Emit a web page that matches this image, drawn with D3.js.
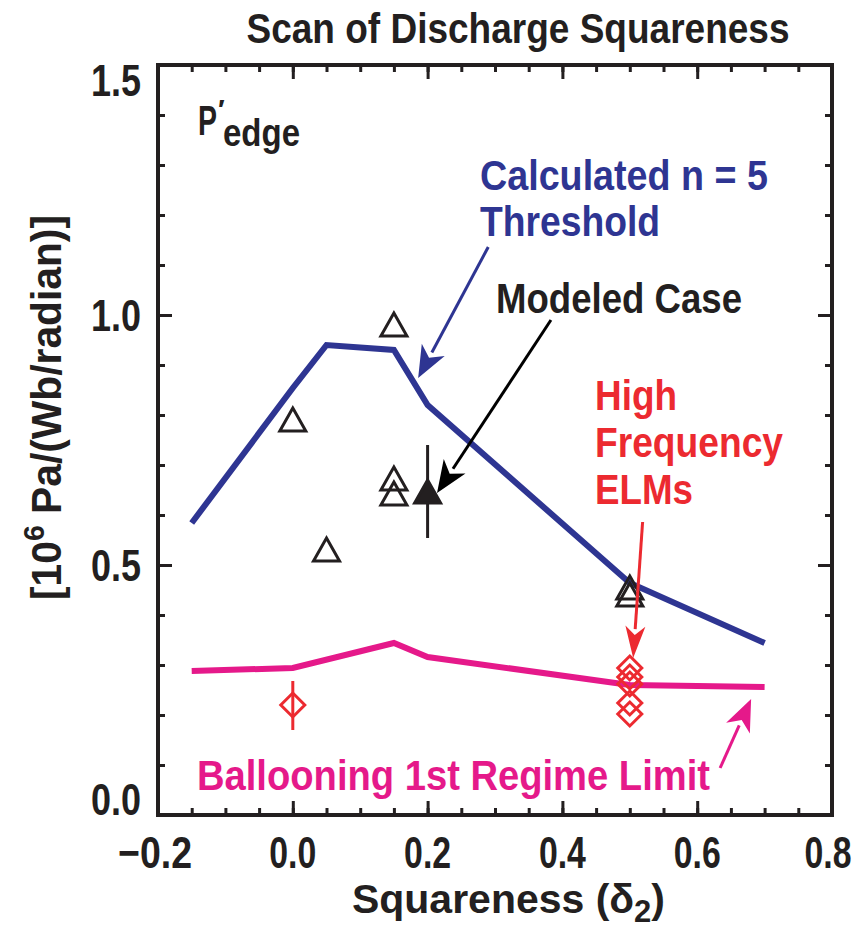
<!DOCTYPE html>
<html><head><meta charset="utf-8">
<script src="https://cdn.jsdelivr.net/npm/d3@7"></script>
<style>
html,body{margin:0;padding:0;background:#fff;}
svg text{font-family:'Liberation Sans Narrow','Arial Narrow','Liberation Sans',Arial,sans-serif;font-weight:bold;}
</style></head>
<body>
<svg id="c" width="864" height="931"></svg>
<script>
// ---- data ----
const thresholdX = [-0.15, 0.0, 0.05, 0.15, 0.2, 0.5, 0.7];
const thresholdY = [0.584, 0.854, 0.94, 0.93, 0.82, 0.464, 0.344];
const balloonX = [-0.15, 0.0, 0.15, 0.2, 0.5, 0.7];
const balloonY = [0.288, 0.294, 0.344, 0.316, 0.26, 0.256];
const openTriX = [0.0, 0.05, 0.15, 0.15, 0.15, 0.5, 0.5];
const openTriY = [0.786, 0.526, 0.976, 0.668, 0.638, 0.45, 0.436];
const modeledX = [0.2];
const modeledY = [0.642];
const modeledLo = [0.554];
const modeledHi = [0.74];
const diamondX = [0.0, 0.5, 0.5, 0.5, 0.5, 0.5];
const diamondY = [0.22, 0.294, 0.276, 0.262, 0.224, 0.202];
const diamondErrX = [0.0];
const diamondErrLo = [0.17];
const diamondErrHi = [0.268];
const xTicks = [-0.2, 0.0, 0.2, 0.4, 0.6, 0.8];
const xTickLabels = ["\u22120.2", "0.0", "0.2", "0.4", "0.6", "0.8"];
const yTicks = [0.0, 0.5, 1.0, 1.5];
const yTickLabels = ["0.0", "0.5", "1.0", "1.5"];

const BLUE = "#2e3592", PINK = "#e5198a", RED = "#ec2a30", BLACK = "#231f20";

const svg = d3.select("#c");
const x = d3.scaleLinear().domain([-0.2, 0.8]).range([158, 832]);
const y = d3.scaleLinear().domain([0, 1.5]).range([815, 65]);

// ---- axes ticks (inward) ----
const xMinor = d3.range(-0.2, 0.8001, 0.05).map(v => +v.toFixed(2));
const yMinor = d3.range(0, 1.5001, 0.1).map(v => +v.toFixed(2));
function tickGroup(axis, tr) {
  const g = svg.append("g").attr("transform", tr).call(axis);
  g.select(".domain").remove();
  g.selectAll("text").remove();
  g.selectAll("line").attr("stroke", BLACK).attr("stroke-width", 3);
  return g;
}
tickGroup(d3.axisBottom(x).tickValues(xMinor).tickSize(-7), `translate(0,${y(0)})`);
tickGroup(d3.axisBottom(x).tickValues(xTicks).tickSize(-14), `translate(0,${y(0)})`);
tickGroup(d3.axisTop(x).tickValues(xMinor).tickSize(-7), `translate(0,${y(1.5)})`);
tickGroup(d3.axisTop(x).tickValues(xTicks).tickSize(-14), `translate(0,${y(1.5)})`);
tickGroup(d3.axisLeft(y).tickValues(yMinor).tickSize(-7), `translate(${x(-0.2)},0)`);
tickGroup(d3.axisLeft(y).tickValues(yTicks).tickSize(-14), `translate(${x(-0.2)},0)`);
tickGroup(d3.axisRight(y).tickValues(yMinor).tickSize(-7), `translate(${x(0.8)},0)`);
tickGroup(d3.axisRight(y).tickValues(yTicks).tickSize(-14), `translate(${x(0.8)},0)`);

svg.append("rect").attr("x", x(-0.2)).attr("y", y(1.5))
  .attr("width", x(0.8) - x(-0.2)).attr("height", y(0) - y(1.5))
  .attr("fill", "none").attr("stroke", BLACK).attr("stroke-width", 4);

// tick labels
svg.append("g").selectAll("text").data(xTicks).join("text")
  .attr("x", d => x(d) - (d < 0 ? 3 : 0) - (d > 0.7 ? 4 : 0)).attr("y", 868).attr("text-anchor", "middle")
  .attr("font-size", 44).attr("fill", BLACK)
  .attr("textLength", d => d < 0 ? 74 : 47).attr("lengthAdjust", "spacingAndGlyphs")
  .text((d, i) => xTickLabels[i]);
svg.append("g").selectAll("text").data(yTicks).join("text")
  .attr("x", 141).attr("y", d => d === 1.5 ? y(d) + 31 : d === 0 ? y(d) : y(d) + 16)
  .attr("text-anchor", "end").attr("font-size", 45).attr("fill", BLACK)
  .attr("textLength", 50).attr("lengthAdjust", "spacingAndGlyphs")
  .text((d, i) => yTickLabels[i]);

// titles
svg.append("text").attr("x", 518).attr("y", 43).attr("text-anchor", "middle")
  .attr("font-size", 42).attr("fill", BLACK)
  .attr("textLength", 543).attr("lengthAdjust", "spacingAndGlyphs")
  .text("Scan of Discharge Squareness");

const xt = svg.append("text").attr("x", 352).attr("y", 913)
  .attr("font-size", 41).attr("fill", BLACK)
  .attr("textLength", 313).attr("lengthAdjust", "spacingAndGlyphs");
xt.append("tspan").text("Squareness (\u03b4");
xt.append("tspan").attr("font-size", 31).attr("dy", 9).text("2");
xt.append("tspan").attr("dy", -9).text(")");

const yt = svg.append("text").attr("transform", "translate(61,600) rotate(-90)")
  .attr("font-size", 43).attr("fill", BLACK)
  .attr("textLength", 385).attr("lengthAdjust", "spacingAndGlyphs");
yt.append("tspan").text("[10");
yt.append("tspan").attr("font-size", 30).attr("dy", -17).text("6");
yt.append("tspan").attr("dy", 17).text(" Pa/(Wb/radian)]");

// P'edge
svg.append("text").attr("x", 198).attr("y", 135).attr("font-size", 42).attr("fill", BLACK)
  .attr("textLength", 19).attr("lengthAdjust", "spacingAndGlyphs").text("P");
svg.append("text").attr("x", 218).attr("y", 119).attr("font-size", 28).attr("fill", BLACK)
  .attr("font-family", "DejaVu Sans").text("\u2032");
svg.append("text").attr("x", 223).attr("y", 146).attr("font-size", 38).attr("fill", BLACK)
  .attr("textLength", 77).attr("lengthAdjust", "spacingAndGlyphs").text("edge");

// ---- lines ----
const line = d3.line().x(d => x(d[0])).y(d => y(d[1]));
svg.append("path").datum(thresholdX.map((v, i) => [v, thresholdY[i]]))
  .attr("d", line).attr("fill", "none").attr("stroke", BLUE).attr("stroke-width", 6);
svg.append("path").datum(balloonX.map((v, i) => [v, balloonY[i]]))
  .attr("d", line).attr("fill", "none").attr("stroke", PINK).attr("stroke-width", 6);

// ---- markers ----
const tri = "M0,-14L13,9L-13,9Z";
svg.append("g").selectAll("path").data(openTriX.map((v, i) => [v, openTriY[i]])).join("path")
  .attr("d", tri).attr("transform", d => `translate(${x(d[0])},${y(d[1])})`)
  .attr("fill", "none").attr("stroke", BLACK).attr("stroke-width", 3);
svg.append("g").selectAll("line").data(modeledX.map((v, i) => [v, modeledLo[i], modeledHi[i]])).join("line")
  .attr("x1", d => x(d[0])).attr("x2", d => x(d[0])).attr("y1", d => y(d[1])).attr("y2", d => y(d[2]))
  .attr("stroke", BLACK).attr("stroke-width", 3);
svg.append("g").selectAll("path").data(modeledX.map((v, i) => [v, modeledY[i]])).join("path")
  .attr("d", tri).attr("transform", d => `translate(${x(d[0])},${y(d[1])})`)
  .attr("fill", BLACK).attr("stroke", BLACK).attr("stroke-width", 3);

const dia = "M0,-12L12,0L0,12L-12,0Z";
svg.append("g").selectAll("line").data(diamondErrX.map((v, i) => [v, diamondErrLo[i], diamondErrHi[i]])).join("line")
  .attr("x1", d => x(d[0])).attr("x2", d => x(d[0])).attr("y1", d => y(d[1])).attr("y2", d => y(d[2]))
  .attr("stroke", RED).attr("stroke-width", 3);
svg.append("g").selectAll("path").data(diamondX.map((v, i) => [v, diamondY[i]])).join("path")
  .attr("d", dia).attr("transform", d => `translate(${x(d[0])},${y(d[1])})`)
  .attr("fill", "none").attr("stroke", RED).attr("stroke-width", 3);

// ---- annotations ----
function arrow(x0, y0, x1, y1, color, w, hl, hw) {
  const X0 = x(x0), Y0 = y(y0), X1 = x(x1), Y1 = y(y1);
  const a = Math.atan2(Y1 - Y0, X1 - X0);
  const bx = X1 - hl * Math.cos(a), by = Y1 - hl * Math.sin(a);
  svg.append("line").attr("x1", X0).attr("y1", Y0).attr("x2", bx + 3 * Math.cos(a)).attr("y2", by + 3 * Math.sin(a))
    .attr("stroke", color).attr("stroke-width", w);
  const nx = -Math.sin(a), ny = Math.cos(a);
  const ix = X1 - hl * 0.72 * Math.cos(a), iy = Y1 - hl * 0.72 * Math.sin(a);
  svg.append("path").attr("d",
    `M${X1},${Y1}L${bx + nx * hw},${by + ny * hw}L${ix},${iy}L${bx - nx * hw},${by - ny * hw}Z`)
    .attr("fill", color);
}
arrow(0.290, 1.136, 0.186, 0.874, BLUE, 3, 32, 13);
arrow(0.383, 0.99, 0.214, 0.644, "#000", 3, 32, 13);
arrow(0.519, 0.586, 0.505, 0.314, RED, 3, 32, 10);
arrow(0.634, 0.094, 0.680, 0.232, PINK, 3, 32, 13);

function label(txt, px, py, color, len) {
  svg.append("text").attr("x", px).attr("y", py).attr("font-size", 43).attr("fill", color)
    .attr("textLength", len).attr("lengthAdjust", "spacingAndGlyphs").text(txt);
}
label("Calculated n = 5", 480, 190, BLUE, 288);
label("Threshold", 480, 236, BLUE, 180);
label("Modeled Case", 496, 313, BLACK, 246);
label("High", 595, 410, RED, 82);
label("Frequency", 595, 457, RED, 188);
label("ELMs", 595, 504, RED, 98);
label("Ballooning 1st Regime Limit", 197, 790, PINK, 513);
</script>
</body></html>
